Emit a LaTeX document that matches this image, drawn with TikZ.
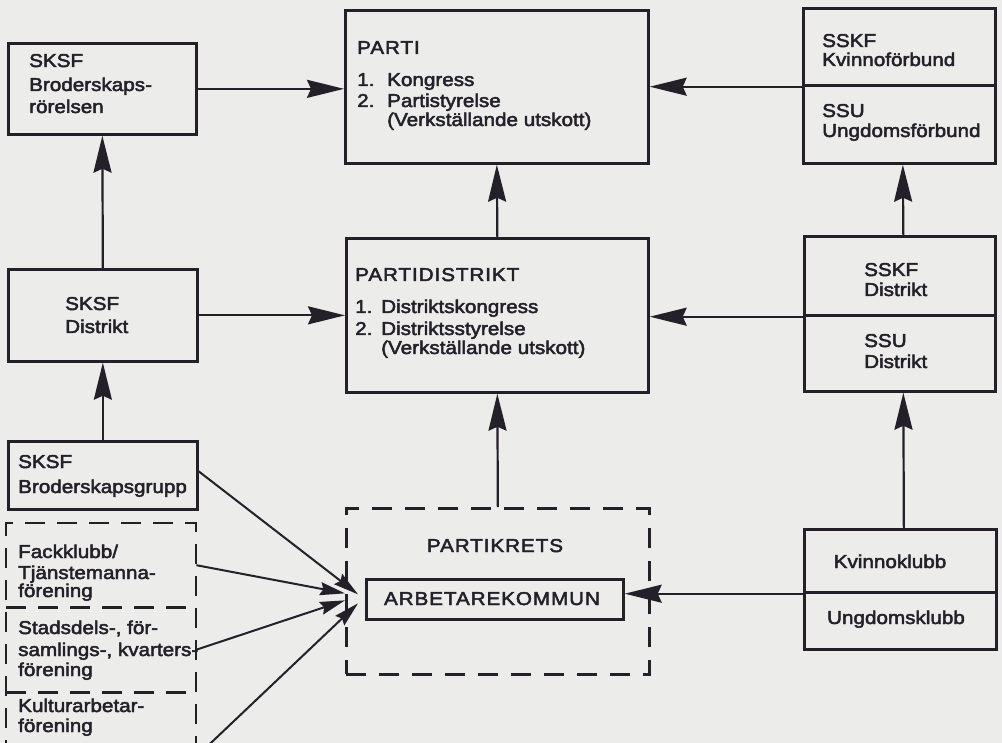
\documentclass[tikz,border=0pt]{standalone}
\usepackage{fontspec}
\setmainfont[FakeStretch=1.11,FakeBold=2.6]{Liberation Sans}
\usetikzlibrary{arrows.meta}
\definecolor{paper}{RGB}{236,236,234}
\definecolor{ink}{RGB}{36,32,42}
\begin{document}
\begin{tikzpicture}[x=1pt,y=-1pt,
  box/.style={draw=ink, line width=2.7pt, inner sep=0pt, anchor=north west},
  hidden/.style={inner sep=0pt, anchor=north west},
  dbox/.style={box, dash pattern=on 20pt off 13pt},
  dline/.style={draw=ink, line width=2.4pt, dash pattern=on 20pt off 12pt},
  txt/.style={anchor=base west, inner sep=0pt, text=ink, font=\fontsize{18.6}{21}\selectfont},
  ctxt/.style={txt, anchor=base},
  caps/.style={font=\fontsize{18.6}{21}\selectfont\addfontfeature{LetterSpace=5}},
  big/.style={draw=ink, line width=2.2pt, -{Stealth[length=37pt,width=18pt,inset=4pt]}},
  small/.style={draw=ink, line width=2pt, -{Stealth[length=25pt,width=13pt,inset=3pt]}}
]
\useasboundingbox (0,0) rectangle (1002,743);
\clip (0,0) rectangle (1002,743);
\fill[paper] (0,0) rectangle (1002,743);

% ---------- boxes ----------
\node[box, minimum width=188pt, minimum height=91pt] (bro) at (7,42) {};
\node[box, minimum width=303pt, minimum height=153pt] (parti) at (344,9) {};
\node[box, minimum width=192pt, minimum height=77pt] (tr1) at (802,7) {};
\node[box, minimum width=192pt, minimum height=78pt] (tr2) at (802,84) {};

\node[box, minimum width=189pt, minimum height=92pt] (skd) at (7,268) {};
\node[box, minimum width=302pt, minimum height=154pt] (pd) at (345,237) {};
\node[box, minimum width=191pt, minimum height=79pt] (mr1) at (803,235) {};
\node[box, minimum width=191pt, minimum height=76pt] (mr2) at (803,314) {};

\node[box, minimum width=189pt, minimum height=68pt] (grp) at (7,440) {};
\node[hidden, minimum width=190pt, minimum height=84pt] (fack) at (6,523) {};
\node[hidden, minimum width=190pt, minimum height=85pt] (stad) at (6,607) {};
\node[hidden, minimum width=190pt, minimum height=85pt] (kult) at (6,692) {};
\draw[dline] (6,760) -- (6,523) -- (196,523) -- (196,760);
\draw[dline] (fack.south west) -- (fack.south east);
\draw[dline] (stad.south west) -- (stad.south east);

\node[dbox, minimum width=303pt, minimum height=166pt] (pk) at (345,507) {};
\node[box, minimum width=257pt, minimum height=40pt] (ark) at (365,578) {};
\node[box, minimum width=192pt, minimum height=63pt] (kv1) at (803,528) {};
\node[box, minimum width=192pt, minimum height=57pt] (kv2) at (803,591) {};

% ---------- texts ----------
\node[txt] (bro1) at (29,67) {SKSF};
\node[txt] (bro2) at (29,91) {Broderskaps-};
\node[txt] (bro3) at (29,113) {rörelsen};

\node[txt, caps] (pa0) at (357,54) {PARTI};
\node[txt] (pa1n) at (357,86) {1.};
\node[txt] (pa1) at (387,86) {Kongress};
\node[txt] (pa2n) at (357,107) {2.};
\node[txt] (pa2) at (387,107) {Partistyrelse};
\node[txt] (pa3) at (387,126) {(Verkställande utskott)};

\node[txt] (tr1a) at (822,47) {SSKF};
\node[txt] (tr1b) at (822,66) {Kvinnoförbund};
\node[txt] (tr2a) at (822,117) {SSU};
\node[txt] (tr2b) at (822,137) {Ungdomsförbund};

\node[txt] (skd1) at (65,310) {SKSF};
\node[txt] (skd2) at (65,333) {Distrikt};

\node[txt, caps] (pd0) at (355,281) {PARTIDISTRIKT};
\node[txt] (pd1n) at (355,313) {1.};
\node[txt] (pd1) at (381,313) {Distriktskongress};
\node[txt] (pd2n) at (355,335) {2.};
\node[txt] (pd2) at (381,335) {Distriktsstyrelse};
\node[txt] (pd3) at (381,354) {(Verkställande utskott)};

\node[txt] (mr1a) at (864,276) {SSKF};
\node[txt] (mr1b) at (864,296) {Distrikt};
\node[txt] (mr2a) at (864,347) {SSU};
\node[txt] (mr2b) at (864,368) {Distrikt};

\node[txt] (grp1) at (18,468) {SKSF};
\node[txt] (grp2) at (18,493) {Broderskapsgrupp};

\node[txt] (fa1) at (18,558) {Fackklubb/};
\node[txt] (fa2) at (18,579) {Tjänstemanna-};
\node[txt] (fa3) at (18,597) {förening};
\node[txt] (st1) at (18,634) {Stadsdels-, för-};
\node[txt] (st2) at (18,656) {samlings-, kvarters-};
\node[txt] (st3) at (18,676) {förening};
\node[txt] (ku1) at (18,712) {Kulturarbetar-};
\node[txt] (ku2) at (18,732) {förening};

\node[ctxt, caps] (pk0) at (495,552) {PARTIKRETS};
\node[ctxt, caps] (ark0) at (492,605) {ARBETAREKOMMUN};

\node[ctxt] (kv1a) at (890,568) {Kvinnoklubb};
\node[ctxt] (kv2a) at (896,624) {Ungdomsklubb};

% ---------- connectors ----------
\draw[big] (bro.east) -- (bro.east -| parti.west);
\draw[big] (tr1.south west) -- (tr1.south west -| parti.east);
\draw[big] (pd.north) -- (parti.south);
\draw[big] (skd.north) -- (bro.south);
\draw[big] (skd.east) -- (skd.east -| pd.west);
\draw[big] (mr1.south west) -- (mr1.south west -| pd.east);
\draw[big] ([xshift=3.5pt]mr1.north) -- ([xshift=3.5pt]tr2.south);
\draw[big] (grp.north) -- (skd.south);
\draw[big] (pk.north) -- (pd.south);
\draw[big] ([xshift=3.5pt]kv1.north) -- ([xshift=3.5pt]mr2.south);
\draw[big] (kv1.south west) -- (kv1.south west -| ark.east);

\coordinate (t1) at ([shift={(-7,-5)}]ark.west);
\coordinate (t2) at ([shift={(-20,-6)}]ark.west);
\coordinate (t3) at ([shift={(-20,1)}]ark.west);
\coordinate (t4) at ([shift={(-7,4)}]ark.west);
\coordinate (ks) at ([yshift=-22pt]kult.east);
\draw[small] ([yshift=4pt]grp.east) -- (t1);
\draw[small] (fack.east) -- (t2);
\draw[small] (stad.east) -- (t3);
\draw[small] (ks) -- (t4);
\end{tikzpicture}
\end{document}
